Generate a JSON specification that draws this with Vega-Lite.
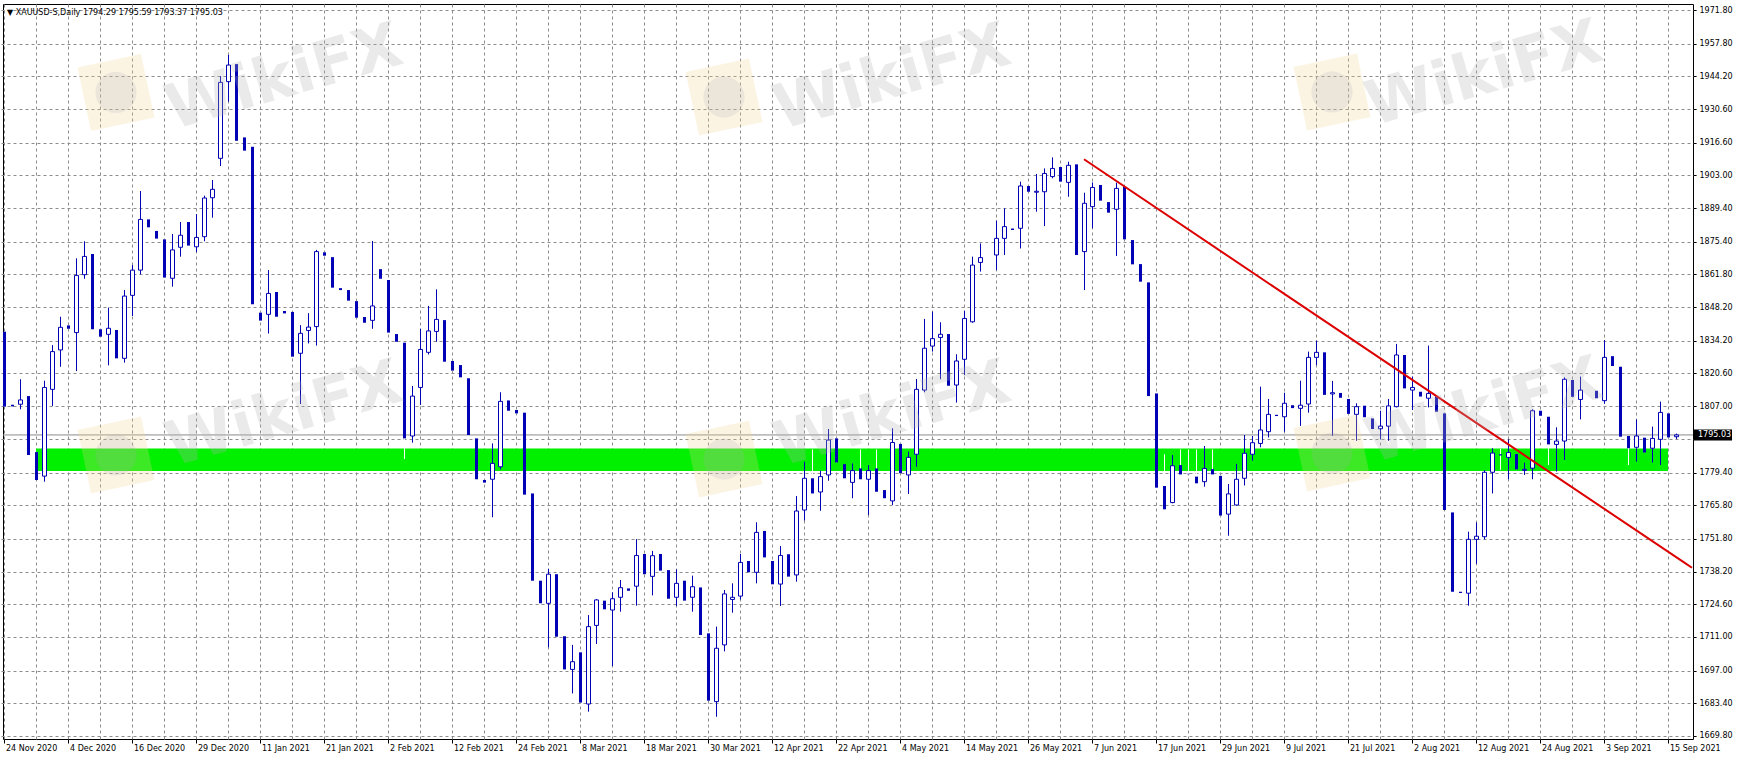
{
  "$schema": "https://vega.github.io/schema/vega-lite/v6.json",
  "description": "XAUUSD-S daily candles, Nov 2020 - Sep 2021",
  "autosize": "none",
  "width": 1690,
  "height": 735,
  "padding": {"left": 3, "top": 4, "right": 48, "bottom": 24},
  "background": "white",
  "title": {
    "text": "▼ XAUUSD-S,Daily  1794.29 1795.59 1793.37 1795.03",
    "anchor": "start",
    "frame": "group",
    "orient": "top",
    "offset": -13,
    "dx": 4,
    "font": "DejaVu Sans",
    "fontSize": 8,
    "fontWeight": "normal",
    "color": "black"
  },
  "datasets": {
    "candles": [
      {"d": "2020-11-24", "o": 1838.0, "h": 1838.0, "l": 1806.8, "c": 1806.8},
      {"d": "2020-11-25", "o": 1807.6, "h": 1807.6, "l": 1806.9, "c": 1806.9},
      {"d": "2020-11-26", "o": 1807.8, "h": 1818.2, "l": 1805.7, "c": 1809.6},
      {"d": "2020-11-27", "o": 1811.2, "h": 1811.2, "l": 1786.7, "c": 1786.7},
      {"d": "2020-11-30", "o": 1787.9, "h": 1787.9, "l": 1776.3, "c": 1776.3},
      {"d": "2020-12-01", "o": 1777.9, "h": 1817.6, "l": 1775.6, "c": 1814.8},
      {"d": "2020-12-02", "o": 1814.0, "h": 1832.4, "l": 1807.1, "c": 1829.7},
      {"d": "2020-12-03", "o": 1830.4, "h": 1844.2, "l": 1823.4, "c": 1839.8},
      {"d": "2020-12-04", "o": 1840.6, "h": 1840.6, "l": 1839.2, "c": 1839.2},
      {"d": "2020-12-07", "o": 1837.6, "h": 1868.5, "l": 1821.6, "c": 1861.4},
      {"d": "2020-12-08", "o": 1861.7, "h": 1875.6, "l": 1860.0, "c": 1869.3},
      {"d": "2020-12-09", "o": 1870.3, "h": 1870.3, "l": 1839.0, "c": 1839.0},
      {"d": "2020-12-10", "o": 1839.0, "h": 1839.0, "l": 1835.9, "c": 1835.9},
      {"d": "2020-12-11", "o": 1836.9, "h": 1848.0, "l": 1824.0, "c": 1839.4},
      {"d": "2020-12-14", "o": 1838.7, "h": 1838.7, "l": 1826.9, "c": 1826.9},
      {"d": "2020-12-15", "o": 1826.9, "h": 1855.3, "l": 1825.1, "c": 1852.8},
      {"d": "2020-12-16", "o": 1853.1, "h": 1865.7, "l": 1844.5, "c": 1863.6},
      {"d": "2020-12-17", "o": 1863.6, "h": 1896.5, "l": 1861.8, "c": 1884.7},
      {"d": "2020-12-18", "o": 1884.7, "h": 1884.7, "l": 1881.4, "c": 1881.4},
      {"d": "2020-12-21", "o": 1879.9, "h": 1879.9, "l": 1876.7, "c": 1876.7},
      {"d": "2020-12-22", "o": 1876.4, "h": 1876.4, "l": 1860.5, "c": 1860.5},
      {"d": "2020-12-23", "o": 1860.2, "h": 1878.6, "l": 1856.7, "c": 1872.0},
      {"d": "2020-12-24", "o": 1873.1, "h": 1883.6, "l": 1869.2, "c": 1878.1},
      {"d": "2020-12-28", "o": 1883.6, "h": 1883.6, "l": 1873.8, "c": 1873.8},
      {"d": "2020-12-29", "o": 1873.3, "h": 1886.9, "l": 1871.1, "c": 1877.2},
      {"d": "2020-12-30", "o": 1877.5, "h": 1894.6, "l": 1875.6, "c": 1893.6},
      {"d": "2020-12-31", "o": 1893.7, "h": 1901.1, "l": 1885.4, "c": 1897.2},
      {"d": "2021-01-04", "o": 1910.1, "h": 1944.3, "l": 1906.9, "c": 1941.7},
      {"d": "2021-01-05", "o": 1942.0, "h": 1953.1, "l": 1933.7, "c": 1948.9},
      {"d": "2021-01-06", "o": 1949.3, "h": 1949.3, "l": 1917.4, "c": 1917.4},
      {"d": "2021-01-07", "o": 1918.8, "h": 1918.8, "l": 1913.3, "c": 1913.3},
      {"d": "2021-01-08", "o": 1914.9, "h": 1914.9, "l": 1849.4, "c": 1849.4},
      {"d": "2021-01-11", "o": 1845.9, "h": 1845.9, "l": 1842.6, "c": 1842.6},
      {"d": "2021-01-12", "o": 1845.2, "h": 1863.6, "l": 1837.2, "c": 1853.9},
      {"d": "2021-01-13", "o": 1854.5, "h": 1854.5, "l": 1844.2, "c": 1844.2},
      {"d": "2021-01-14", "o": 1846.6, "h": 1846.6, "l": 1845.6, "c": 1845.6},
      {"d": "2021-01-15", "o": 1846.2, "h": 1846.2, "l": 1827.6, "c": 1827.6},
      {"d": "2021-01-18", "o": 1829.0, "h": 1840.7, "l": 1807.9, "c": 1837.3},
      {"d": "2021-01-19", "o": 1838.5, "h": 1845.7, "l": 1833.1, "c": 1839.9},
      {"d": "2021-01-20", "o": 1840.1, "h": 1872.0, "l": 1832.2, "c": 1871.3},
      {"d": "2021-01-21", "o": 1871.0, "h": 1871.0, "l": 1869.6, "c": 1869.6},
      {"d": "2021-01-22", "o": 1869.0, "h": 1869.0, "l": 1856.3, "c": 1856.3},
      {"d": "2021-01-25", "o": 1856.1, "h": 1856.1, "l": 1855.3, "c": 1855.3},
      {"d": "2021-01-26", "o": 1855.3, "h": 1855.3, "l": 1850.9, "c": 1850.9},
      {"d": "2021-01-27", "o": 1850.7, "h": 1850.7, "l": 1843.8, "c": 1843.8},
      {"d": "2021-01-28", "o": 1844.1, "h": 1844.1, "l": 1841.7, "c": 1841.7},
      {"d": "2021-01-29", "o": 1842.7, "h": 1875.7, "l": 1839.2, "c": 1848.7},
      {"d": "2021-02-01", "o": 1864.0, "h": 1864.0, "l": 1860.0, "c": 1860.0},
      {"d": "2021-02-02", "o": 1859.5, "h": 1859.5, "l": 1837.6, "c": 1837.6},
      {"d": "2021-02-03", "o": 1837.0, "h": 1837.0, "l": 1833.8, "c": 1833.8},
      {"d": "2021-02-04", "o": 1833.4, "h": 1833.4, "l": 1785.0, "c": 1793.6},
      {"d": "2021-02-05", "o": 1794.6, "h": 1815.4, "l": 1791.8, "c": 1811.2},
      {"d": "2021-02-08", "o": 1814.8, "h": 1839.2, "l": 1807.5, "c": 1830.6},
      {"d": "2021-02-09", "o": 1829.4, "h": 1848.7, "l": 1828.5, "c": 1838.3},
      {"d": "2021-02-10", "o": 1838.1, "h": 1855.6, "l": 1833.8, "c": 1843.1},
      {"d": "2021-02-11", "o": 1842.8, "h": 1842.8, "l": 1825.5, "c": 1825.5},
      {"d": "2021-02-12", "o": 1825.8, "h": 1825.8, "l": 1821.8, "c": 1821.8},
      {"d": "2021-02-15", "o": 1824.1, "h": 1824.1, "l": 1819.0, "c": 1819.0},
      {"d": "2021-02-16", "o": 1818.6, "h": 1818.6, "l": 1795.0, "c": 1795.0},
      {"d": "2021-02-17", "o": 1793.6, "h": 1793.6, "l": 1776.6, "c": 1776.6},
      {"d": "2021-02-18", "o": 1776.3, "h": 1776.3, "l": 1775.2, "c": 1775.2},
      {"d": "2021-02-19", "o": 1776.6, "h": 1791.5, "l": 1760.8, "c": 1783.2},
      {"d": "2021-02-22", "o": 1781.8, "h": 1812.8, "l": 1780.7, "c": 1809.0},
      {"d": "2021-02-23", "o": 1809.4, "h": 1809.4, "l": 1805.1, "c": 1805.1},
      {"d": "2021-02-24", "o": 1805.4, "h": 1805.4, "l": 1804.0, "c": 1804.0},
      {"d": "2021-02-25", "o": 1804.3, "h": 1804.3, "l": 1770.2, "c": 1770.2},
      {"d": "2021-02-26", "o": 1770.7, "h": 1770.7, "l": 1734.4, "c": 1734.4},
      {"d": "2021-03-01", "o": 1734.4, "h": 1734.4, "l": 1725.0, "c": 1725.0},
      {"d": "2021-03-02", "o": 1725.0, "h": 1739.3, "l": 1706.7, "c": 1737.1},
      {"d": "2021-03-03", "o": 1737.1, "h": 1737.1, "l": 1711.1, "c": 1711.1},
      {"d": "2021-03-04", "o": 1711.3, "h": 1711.3, "l": 1697.5, "c": 1697.5},
      {"d": "2021-03-05", "o": 1697.5, "h": 1707.7, "l": 1687.5, "c": 1700.7},
      {"d": "2021-03-08", "o": 1704.6, "h": 1704.6, "l": 1683.7, "c": 1683.7},
      {"d": "2021-03-09", "o": 1683.1, "h": 1720.1, "l": 1679.9, "c": 1715.3},
      {"d": "2021-03-10", "o": 1715.8, "h": 1726.8, "l": 1708.1, "c": 1726.4},
      {"d": "2021-03-11", "o": 1726.1, "h": 1726.1, "l": 1722.5, "c": 1722.5},
      {"d": "2021-03-12", "o": 1722.2, "h": 1729.6, "l": 1698.9, "c": 1726.9},
      {"d": "2021-03-15", "o": 1727.5, "h": 1734.7, "l": 1721.5, "c": 1731.5},
      {"d": "2021-03-16", "o": 1731.2, "h": 1731.2, "l": 1730.2, "c": 1730.2},
      {"d": "2021-03-17", "o": 1732.1, "h": 1751.7, "l": 1724.0, "c": 1744.9},
      {"d": "2021-03-18", "o": 1745.5, "h": 1745.5, "l": 1737.1, "c": 1737.1},
      {"d": "2021-03-19", "o": 1736.2, "h": 1746.8, "l": 1728.3, "c": 1744.8},
      {"d": "2021-03-22", "o": 1745.5, "h": 1745.5, "l": 1738.6, "c": 1738.6},
      {"d": "2021-03-23", "o": 1738.8, "h": 1738.8, "l": 1726.9, "c": 1726.9},
      {"d": "2021-03-24", "o": 1727.5, "h": 1739.1, "l": 1723.9, "c": 1733.3},
      {"d": "2021-03-25", "o": 1734.4, "h": 1734.4, "l": 1726.1, "c": 1726.1},
      {"d": "2021-03-26", "o": 1727.5, "h": 1736.5, "l": 1721.5, "c": 1731.9},
      {"d": "2021-03-29", "o": 1731.6, "h": 1731.6, "l": 1711.8, "c": 1711.8},
      {"d": "2021-03-30", "o": 1712.5, "h": 1712.5, "l": 1684.5, "c": 1684.5},
      {"d": "2021-03-31", "o": 1684.1, "h": 1715.3, "l": 1677.8, "c": 1706.3},
      {"d": "2021-04-01", "o": 1707.7, "h": 1730.5, "l": 1705.0, "c": 1728.9},
      {"d": "2021-04-05", "o": 1726.6, "h": 1733.3, "l": 1721.1, "c": 1727.5},
      {"d": "2021-04-06", "o": 1728.0, "h": 1745.5, "l": 1726.6, "c": 1742.0},
      {"d": "2021-04-07", "o": 1742.6, "h": 1742.6, "l": 1737.9, "c": 1737.9},
      {"d": "2021-04-08", "o": 1737.9, "h": 1758.7, "l": 1733.3, "c": 1754.5},
      {"d": "2021-04-09", "o": 1755.1, "h": 1755.1, "l": 1744.1, "c": 1744.1},
      {"d": "2021-04-12", "o": 1742.6, "h": 1742.6, "l": 1732.9, "c": 1732.9},
      {"d": "2021-04-13", "o": 1733.0, "h": 1748.8, "l": 1723.9, "c": 1744.9},
      {"d": "2021-04-14", "o": 1745.4, "h": 1745.4, "l": 1736.1, "c": 1736.1},
      {"d": "2021-04-15", "o": 1736.8, "h": 1769.6, "l": 1734.0, "c": 1763.4},
      {"d": "2021-04-16", "o": 1763.8, "h": 1783.9, "l": 1759.4, "c": 1777.0},
      {"d": "2021-04-19", "o": 1777.0, "h": 1789.0, "l": 1770.7, "c": 1770.7},
      {"d": "2021-04-20", "o": 1771.3, "h": 1780.2, "l": 1763.5, "c": 1777.7},
      {"d": "2021-04-21", "o": 1778.4, "h": 1797.5, "l": 1776.0, "c": 1792.9},
      {"d": "2021-04-22", "o": 1793.6, "h": 1793.6, "l": 1783.6, "c": 1783.6},
      {"d": "2021-04-23", "o": 1782.9, "h": 1782.9, "l": 1777.0, "c": 1777.0},
      {"d": "2021-04-26", "o": 1775.3, "h": 1783.2, "l": 1768.7, "c": 1780.2},
      {"d": "2021-04-27", "o": 1781.1, "h": 1789.0, "l": 1776.6, "c": 1776.6},
      {"d": "2021-04-28", "o": 1776.6, "h": 1782.5, "l": 1761.7, "c": 1780.2},
      {"d": "2021-04-29", "o": 1781.1, "h": 1789.0, "l": 1771.4, "c": 1771.4},
      {"d": "2021-04-30", "o": 1772.1, "h": 1772.1, "l": 1768.7, "c": 1768.7},
      {"d": "2021-05-03", "o": 1767.6, "h": 1797.8, "l": 1765.9, "c": 1791.9},
      {"d": "2021-05-04", "o": 1791.3, "h": 1791.3, "l": 1779.1, "c": 1779.1},
      {"d": "2021-05-05", "o": 1778.4, "h": 1788.1, "l": 1770.5, "c": 1785.7},
      {"d": "2021-05-06", "o": 1787.0, "h": 1818.3, "l": 1781.8, "c": 1814.0},
      {"d": "2021-05-07", "o": 1813.7, "h": 1843.3, "l": 1812.8, "c": 1831.1},
      {"d": "2021-05-10", "o": 1832.0, "h": 1846.3, "l": 1829.7, "c": 1835.1},
      {"d": "2021-05-11", "o": 1835.6, "h": 1841.9, "l": 1818.2, "c": 1836.9},
      {"d": "2021-05-12", "o": 1837.0, "h": 1837.0, "l": 1815.5, "c": 1815.5},
      {"d": "2021-05-13", "o": 1815.8, "h": 1828.6, "l": 1808.5, "c": 1825.8},
      {"d": "2021-05-14", "o": 1826.5, "h": 1846.7, "l": 1819.9, "c": 1843.5},
      {"d": "2021-05-17", "o": 1842.1, "h": 1869.2, "l": 1841.7, "c": 1865.7},
      {"d": "2021-05-18", "o": 1866.8, "h": 1874.7, "l": 1863.0, "c": 1868.8},
      {"d": "2021-05-19", "o": 1869.0, "h": 1889.0, "l": 1855.0, "c": 1869.0},
      {"d": "2021-05-20", "o": 1869.9, "h": 1884.2, "l": 1863.6, "c": 1876.8},
      {"d": "2021-05-21", "o": 1876.8, "h": 1889.3, "l": 1869.9, "c": 1881.7},
      {"d": "2021-05-24", "o": 1880.9, "h": 1880.9, "l": 1880.3, "c": 1880.3},
      {"d": "2021-05-25", "o": 1881.0, "h": 1900.4, "l": 1872.6, "c": 1898.6},
      {"d": "2021-05-26", "o": 1898.6, "h": 1898.6, "l": 1896.2, "c": 1896.2},
      {"d": "2021-05-27", "o": 1896.0, "h": 1903.6, "l": 1887.9, "c": 1896.4},
      {"d": "2021-05-28", "o": 1896.2, "h": 1905.9, "l": 1881.9, "c": 1903.8},
      {"d": "2021-05-31", "o": 1902.5, "h": 1910.5, "l": 1901.8, "c": 1905.9},
      {"d": "2021-06-01", "o": 1906.5, "h": 1906.5, "l": 1900.4, "c": 1900.4},
      {"d": "2021-06-02", "o": 1900.1, "h": 1908.7, "l": 1894.1, "c": 1907.2},
      {"d": "2021-06-03", "o": 1907.6, "h": 1907.6, "l": 1869.9, "c": 1869.9},
      {"d": "2021-06-04", "o": 1871.3, "h": 1895.8, "l": 1855.3, "c": 1891.4},
      {"d": "2021-06-07", "o": 1890.0, "h": 1900.1, "l": 1881.0, "c": 1898.0},
      {"d": "2021-06-08", "o": 1899.0, "h": 1899.0, "l": 1892.5, "c": 1892.5},
      {"d": "2021-06-09", "o": 1891.9, "h": 1891.9, "l": 1887.5, "c": 1887.5},
      {"d": "2021-06-10", "o": 1888.9, "h": 1900.0, "l": 1869.5, "c": 1897.6},
      {"d": "2021-06-11", "o": 1898.3, "h": 1898.3, "l": 1876.4, "c": 1876.4},
      {"d": "2021-06-14", "o": 1876.1, "h": 1876.1, "l": 1866.0, "c": 1866.0},
      {"d": "2021-06-15", "o": 1866.1, "h": 1866.1, "l": 1858.8, "c": 1858.8},
      {"d": "2021-06-16", "o": 1858.5, "h": 1858.5, "l": 1811.2, "c": 1811.2},
      {"d": "2021-06-17", "o": 1812.3, "h": 1812.3, "l": 1773.1, "c": 1773.1},
      {"d": "2021-06-18", "o": 1773.8, "h": 1787.0, "l": 1764.1, "c": 1764.1},
      {"d": "2021-06-21", "o": 1766.9, "h": 1786.7, "l": 1766.6, "c": 1782.2},
      {"d": "2021-06-22", "o": 1782.5, "h": 1789.0, "l": 1778.6, "c": 1778.6},
      {"d": "2021-06-23", "o": 1778.9, "h": 1789.0, "l": 1778.7, "c": 1778.7},
      {"d": "2021-06-24", "o": 1777.7, "h": 1789.0, "l": 1774.9, "c": 1774.9},
      {"d": "2021-06-25", "o": 1775.6, "h": 1790.4, "l": 1773.5, "c": 1781.1},
      {"d": "2021-06-28", "o": 1780.8, "h": 1789.0, "l": 1778.6, "c": 1778.6},
      {"d": "2021-06-29", "o": 1778.0, "h": 1778.0, "l": 1761.5, "c": 1761.5},
      {"d": "2021-06-30", "o": 1762.1, "h": 1774.6, "l": 1753.1, "c": 1770.5},
      {"d": "2021-07-01", "o": 1765.9, "h": 1783.0, "l": 1765.6, "c": 1776.6},
      {"d": "2021-07-02", "o": 1777.0, "h": 1795.0, "l": 1774.0, "c": 1787.4},
      {"d": "2021-07-05", "o": 1787.0, "h": 1794.6, "l": 1784.3, "c": 1791.8},
      {"d": "2021-07-06", "o": 1791.5, "h": 1815.1, "l": 1789.9, "c": 1797.1},
      {"d": "2021-07-07", "o": 1796.4, "h": 1810.0, "l": 1794.0, "c": 1803.6},
      {"d": "2021-07-08", "o": 1803.4, "h": 1803.4, "l": 1802.9, "c": 1802.9},
      {"d": "2021-07-09", "o": 1802.6, "h": 1812.6, "l": 1796.4, "c": 1808.2},
      {"d": "2021-07-12", "o": 1807.4, "h": 1807.4, "l": 1806.2, "c": 1806.2},
      {"d": "2021-07-13", "o": 1806.1, "h": 1817.6, "l": 1798.8, "c": 1807.4},
      {"d": "2021-07-14", "o": 1807.9, "h": 1829.7, "l": 1804.3, "c": 1827.3},
      {"d": "2021-07-15", "o": 1827.3, "h": 1834.3, "l": 1824.1, "c": 1829.4},
      {"d": "2021-07-16", "o": 1829.4, "h": 1829.4, "l": 1811.7, "c": 1811.7},
      {"d": "2021-07-19", "o": 1812.1, "h": 1817.5, "l": 1794.7, "c": 1812.6},
      {"d": "2021-07-20", "o": 1812.5, "h": 1812.5, "l": 1810.5, "c": 1810.5},
      {"d": "2021-07-21", "o": 1810.0, "h": 1810.0, "l": 1803.8, "c": 1803.8},
      {"d": "2021-07-22", "o": 1803.6, "h": 1808.2, "l": 1792.6, "c": 1806.8},
      {"d": "2021-07-23", "o": 1807.2, "h": 1807.2, "l": 1802.4, "c": 1802.4},
      {"d": "2021-07-26", "o": 1801.9, "h": 1801.9, "l": 1797.5, "c": 1797.5},
      {"d": "2021-07-27", "o": 1797.6, "h": 1805.1, "l": 1793.2, "c": 1798.7},
      {"d": "2021-07-28", "o": 1798.7, "h": 1810.0, "l": 1792.6, "c": 1807.1},
      {"d": "2021-07-29", "o": 1806.8, "h": 1832.9, "l": 1806.5, "c": 1828.3},
      {"d": "2021-07-30", "o": 1828.3, "h": 1828.3, "l": 1814.4, "c": 1814.4},
      {"d": "2021-08-02", "o": 1813.7, "h": 1819.3, "l": 1805.4, "c": 1814.8},
      {"d": "2021-08-03", "o": 1813.0, "h": 1813.0, "l": 1811.0, "c": 1811.0},
      {"d": "2021-08-04", "o": 1810.3, "h": 1832.2, "l": 1806.5, "c": 1812.3},
      {"d": "2021-08-05", "o": 1811.2, "h": 1811.2, "l": 1804.7, "c": 1804.7},
      {"d": "2021-08-06", "o": 1804.0, "h": 1804.0, "l": 1763.8, "c": 1763.8},
      {"d": "2021-08-09", "o": 1762.8, "h": 1762.8, "l": 1729.8, "c": 1729.8},
      {"d": "2021-08-10", "o": 1729.8, "h": 1729.8, "l": 1729.3, "c": 1729.3},
      {"d": "2021-08-11", "o": 1729.2, "h": 1754.8, "l": 1724.0, "c": 1751.6},
      {"d": "2021-08-12", "o": 1751.6, "h": 1758.6, "l": 1741.4, "c": 1752.9},
      {"d": "2021-08-13", "o": 1752.7, "h": 1780.4, "l": 1751.6, "c": 1779.5},
      {"d": "2021-08-16", "o": 1779.5, "h": 1789.5, "l": 1770.7, "c": 1787.5},
      {"d": "2021-08-17", "o": 1787.0, "h": 1789.2, "l": 1780.5, "c": 1786.5},
      {"d": "2021-08-18", "o": 1785.7, "h": 1793.2, "l": 1776.6, "c": 1787.7},
      {"d": "2021-08-19", "o": 1787.1, "h": 1787.1, "l": 1780.7, "c": 1780.7},
      {"d": "2021-08-20", "o": 1780.3, "h": 1783.5, "l": 1778.4, "c": 1780.7},
      {"d": "2021-08-23", "o": 1781.2, "h": 1805.7, "l": 1776.6, "c": 1805.1},
      {"d": "2021-08-24", "o": 1805.1, "h": 1805.1, "l": 1803.0, "c": 1803.0},
      {"d": "2021-08-25", "o": 1802.6, "h": 1802.6, "l": 1782.5, "c": 1791.1},
      {"d": "2021-08-26", "o": 1791.1, "h": 1798.2, "l": 1779.8, "c": 1792.5},
      {"d": "2021-08-27", "o": 1792.5, "h": 1819.0, "l": 1784.6, "c": 1818.2},
      {"d": "2021-08-30", "o": 1817.9, "h": 1817.9, "l": 1810.9, "c": 1810.9},
      {"d": "2021-08-31", "o": 1809.8, "h": 1819.3, "l": 1801.5, "c": 1813.7},
      {"d": "2021-09-01", "o": 1814.0, "h": 1828.0, "l": 1810.0, "c": 1814.0},
      {"d": "2021-09-02", "o": 1813.4, "h": 1813.4, "l": 1810.3, "c": 1810.3},
      {"d": "2021-09-03", "o": 1809.3, "h": 1834.5, "l": 1808.0, "c": 1827.3},
      {"d": "2021-09-06", "o": 1827.8, "h": 1827.8, "l": 1823.7, "c": 1823.7},
      {"d": "2021-09-07", "o": 1823.4, "h": 1823.4, "l": 1794.3, "c": 1794.3},
      {"d": "2021-09-08", "o": 1794.6, "h": 1794.6, "l": 1782.5, "c": 1789.5},
      {"d": "2021-09-09", "o": 1789.9, "h": 1801.5, "l": 1783.9, "c": 1794.6},
      {"d": "2021-09-10", "o": 1793.9, "h": 1793.9, "l": 1787.7, "c": 1787.7},
      {"d": "2021-09-13", "o": 1789.5, "h": 1798.5, "l": 1783.5, "c": 1793.6},
      {"d": "2021-09-14", "o": 1793.2, "h": 1808.9, "l": 1782.5, "c": 1804.4},
      {"d": "2021-09-15", "o": 1804.0, "h": 1804.0, "l": 1794.0, "c": 1794.0},
      {"d": "2021-09-16", "o": 1794.29, "h": 1795.59, "l": 1793.37, "c": 1795.03}
    ],
    "trend": [
      {"d": "2021-06-04", "p": 1909.7},
      {"d": "2021-09-17", "p": 1742.0},
      {"d": "2021-09-20", "p": 1739.8}
    ],
    "zone": [
      {"from": "2020-11-30", "to": "2021-09-15", "lo": 1780.0, "hi": 1789.4}
    ],
    "wmText": [
      {"d": "2021-01-14", "p": 1943.5},
      {"d": "2021-05-03", "p": 1943.5},
      {"d": "2021-08-13", "p": 1945.0},
      {"d": "2021-01-14", "p": 1803.3},
      {"d": "2021-05-03", "p": 1803.3},
      {"d": "2021-08-13", "p": 1804.8}
    ],
    "wmLogo": [
      {"d": "2020-12-14", "p": 1937.5},
      {"d": "2021-04-01", "p": 1935.6},
      {"d": "2021-07-19", "p": 1937.7},
      {"d": "2020-12-14", "p": 1786.7},
      {"d": "2021-04-01", "p": 1785.0},
      {"d": "2021-07-19", "p": 1787.5}
    ],
    "last": [
      {"d": "2021-09-20", "p": 1795.03}
    ]
  },
  "layer": [
    {
      "data": {"name": "zone"},
      "mark": {"type": "rect", "color": "#00f000", "clip": true},
      "encoding": {
        "x": {"field": "from", "type": "ordinal", "bandPosition": 0.5, "axis": null},
        "x2": {"field": "to"},
        "y": {
          "field": "lo",
          "type": "quantitative",
          "scale": {"domain": [1668.55, 1974.3], "nice": false, "zero": false},
          "axis": {
            "orient": "right",
            "values": [1669.8, 1683.4, 1697.0, 1711.0, 1724.6, 1738.2, 1751.8, 1765.8, 1779.4, 1793.4, 1807.0, 1820.6, 1834.2, 1848.2, 1861.8, 1875.4, 1889.4, 1903.0, 1916.6, 1930.6, 1944.2, 1957.8, 1971.8],
            "tickCount": 40,
            "format": ".2f",
            "labelExpr": "datum.value == 1793.4 ? '' : datum.label",
            "grid": true,
            "gridColor": "#8c8c8c",
            "gridDash": [3, 3],
            "tickSize": 3,
            "tickColor": "#000000",
            "labelPadding": 3,
            "labelBaseline": "middle",
            "labelFont": "DejaVu Sans",
            "labelFontSize": 8,
            "labelColor": "#000000",
            "labelOverlap": false,
            "labelBound": false,
            "labelFlush": false,
            "domain": false,
            "title": null
          }
        },
        "y2": {"field": "hi"}
      }
    },
    {
      "data": {"name": "last"},
      "mark": {"type": "rule", "color": "#8c8c8c", "strokeWidth": 1},
      "encoding": {
        "y": {"field": "p", "type": "quantitative"}
      }
    },
    {
      "data": {"name": "candles"},
      "mark": {"type": "rule", "strokeWidth": 1, "xOffset": 0.5, "clip": true},
      "encoding": {
        "x": {
          "field": "d",
          "type": "ordinal",
          "sort": "ascending",
          "scale": {"type": "band", "paddingInner": 0, "paddingOuter": 0, "range": [-3, 1693]},
          "axis": {
            "orient": "bottom",
            "values": ["2020-11-24", "2020-11-30", "2020-12-04", "2020-12-10", "2020-12-16", "2020-12-22", "2020-12-29", "2021-01-05", "2021-01-11", "2021-01-15", "2021-01-21", "2021-01-27", "2021-02-02", "2021-02-08", "2021-02-12", "2021-02-18", "2021-02-24", "2021-03-02", "2021-03-08", "2021-03-12", "2021-03-18", "2021-03-24", "2021-03-30", "2021-04-06", "2021-04-12", "2021-04-16", "2021-04-22", "2021-04-28", "2021-05-04", "2021-05-10", "2021-05-14", "2021-05-20", "2021-05-26", "2021-06-01", "2021-06-07", "2021-06-11", "2021-06-17", "2021-06-23", "2021-06-29", "2021-07-05", "2021-07-09", "2021-07-15", "2021-07-21", "2021-07-27", "2021-08-02", "2021-08-06", "2021-08-12", "2021-08-18", "2021-08-24", "2021-08-30", "2021-09-03", "2021-09-09", "2021-09-15"],
            "bandPosition": 0.5,
            "grid": true,
            "gridColor": "#8c8c8c",
            "gridDash": [3, 3],
            "gridWidth": 1,
            "labels": false,
            "ticks": false,
            "domain": false,
            "title": null
          }
        },
        "y": {"field": "l", "type": "quantitative"},
        "y2": {"field": "h"},
        "color": {
          "condition": {"test": "datum.c > datum.o", "value": "#0000b4"},
          "value": "#ffffff"
        }
      }
    },
    {
      "data": {"name": "candles"},
      "transform": [{"filter": "datum.c < datum.o"}],
      "mark": {"type": "bar", "width": 3, "color": "#0000b4", "xOffset": 0.5, "clip": true},
      "encoding": {
        "x": {
          "field": "d",
          "type": "ordinal",
          "axis": {
            "orient": "bottom",
            "values": ["2020-11-24", "2020-12-04", "2020-12-16", "2020-12-29", "2021-01-11", "2021-01-21", "2021-02-02", "2021-02-12", "2021-02-24", "2021-03-08", "2021-03-18", "2021-03-30", "2021-04-12", "2021-04-22", "2021-05-04", "2021-05-14", "2021-05-26", "2021-06-07", "2021-06-17", "2021-06-29", "2021-07-09", "2021-07-21", "2021-08-02", "2021-08-12", "2021-08-24", "2021-09-03", "2021-09-15"],
            "labelExpr": "utcFormat(toDate(datum.value), '%-d %b %Y')",
            "bandPosition": 0.5,
            "grid": false,
            "domain": false,
            "ticks": true,
            "tickSize": 4,
            "tickColor": "#000000",
            "labelAlign": "left",
            "labelBaseline": "top",
            "labelOffset": 2,
            "labelPadding": 1,
            "labelAngle": 0,
            "labelFont": "DejaVu Sans",
            "labelFontSize": 8,
            "labelColor": "#000000",
            "labelOverlap": false,
            "labelBound": false,
            "labelFlush": false,
            "title": null
          }
        },
        "y": {"field": "o", "type": "quantitative"},
        "y2": {"field": "c"}
      }
    },
    {
      "data": {"name": "candles"},
      "transform": [{"filter": "datum.c > datum.o"}],
      "mark": {"type": "bar", "width": 4, "fill": "#ffffff", "stroke": "#0000b4", "strokeWidth": 1, "xOffset": 0.5, "clip": true},
      "encoding": {
        "x": {"field": "d", "type": "ordinal", "axis": null},
        "y": {"field": "o", "type": "quantitative"},
        "y2": {"field": "c"}
      }
    },
    {
      "data": {"name": "trend"},
      "mark": {"type": "line", "color": "#dd0000", "strokeWidth": 2, "clip": true},
      "encoding": {
        "x": {"field": "d", "type": "ordinal", "axis": null},
        "y": {"field": "p", "type": "quantitative"}
      }
    },
    {
      "data": {"name": "wmLogo"},
      "mark": {"type": "point", "shape": "square", "size": 4200, "filled": true, "color": "#f5d590", "opacity": 0.25, "angle": -12, "clip": true},
      "encoding": {
        "x": {"field": "d", "type": "ordinal", "axis": null},
        "y": {"field": "p", "type": "quantitative"}
      }
    },
    {
      "data": {"name": "wmLogo"},
      "mark": {"type": "point", "shape": "circle", "size": 1700, "filled": true, "color": "#a9a9b4", "opacity": 0.18, "clip": true},
      "encoding": {
        "x": {"field": "d", "type": "ordinal", "axis": null},
        "y": {"field": "p", "type": "quantitative"}
      }
    },
    {
      "data": {"name": "wmText"},
      "mark": {"type": "text", "text": "WikiFX", "font": "DejaVu Sans", "fontSize": 62, "fontWeight": "bold", "color": "#b4b4b4", "opacity": 0.27, "angle": -16, "align": "center", "baseline": "middle", "clip": true},
      "encoding": {
        "x": {"field": "d", "type": "ordinal", "axis": null},
        "y": {"field": "p", "type": "quantitative"}
      }
    },
    {
      "data": {"name": "last"},
      "mark": {"type": "point", "shape": "M-1,-0.29H1V0.29H-1Z", "size": 1444, "filled": true, "color": "#000000", "opacity": 1, "xOffset": 21, "clip": false},
      "encoding": {
        "x": {"field": "d", "type": "ordinal", "axis": null},
        "y": {"field": "p", "type": "quantitative"}
      }
    },
    {
      "data": {"name": "last"},
      "mark": {"type": "text", "font": "DejaVu Sans", "fontSize": 8, "color": "#ffffff", "align": "left", "baseline": "middle", "dx": 6, "clip": false},
      "encoding": {
        "x": {"field": "d", "type": "ordinal", "axis": null},
        "y": {"field": "p", "type": "quantitative"},
        "text": {"field": "p", "type": "quantitative", "format": ".2f"}
      }
    }
  ],
  "resolve": {"axis": {"x": "independent"}},
  "config": {
    "view": {"stroke": "#000000", "strokeWidth": 1},
    "axis": {"labelFont": "DejaVu Sans", "labelFontSize": 8}
  }
}
